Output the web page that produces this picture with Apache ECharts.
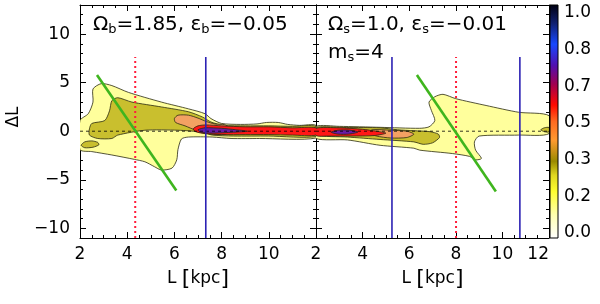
<!DOCTYPE html>
<html><head><meta charset="utf-8">
<script src="https://cdn.jsdelivr.net/npm/echarts@6/dist/echarts.min.js"></script>
<style>html,body{margin:0;padding:0;background:#fff}#c{width:600px;height:304px}</style>
</head><body><div id="c"></div>
<script>
// ---------- data ----------
const xRange = [2, 12];
const xStep = 2;
const yRange = [-11, 13];
const yMajorTicks = [-10, -5, 0, 5, 10];
const cbTickValues = [0, 0.1667, 0.3333, 0.5, 0.6667, 0.8333, 1];
const cbTickLabels = ['0.0', '0.2', '0.3', '0.5', '0.7', '0.8', '1.0'];

// bar panel contours, points [L, ΔL]
const barLevel1 = [[2.0,1.1],[2.35,1.8],[2.55,3.0],[2.55,4.35],[2.9,4.9],[3.35,4.7],[4.05,4.0],[5.45,3.0],[6.6,2.3],[7.3,1.8],[7.55,1.3],[8.0,0.8],[8.8,0.7],[9.5,0.75],[9.9,0.9],[10.4,0.9],[10.8,0.7],[11.3,0.6],[12,0.6],[12,-0.7],[9.6,-0.75],[8.4,-0.75],[7.6,-0.6],[6.6,-0.6],[6.3,-0.8],[6.15,-1.9],[6.1,-2.95],[5.9,-3.8],[5.45,-4.0],[5.15,-3.65],[4.75,-3.15],[4.3,-2.9],[3.35,-2.45],[2.5,-2.1],[2.0,-1.9]];
const barLevel2 = [[2.4,0.25],[2.5,0.8],[3.05,1.1],[3.25,2.1],[3.35,3.15],[3.6,3.45],[4.2,3.0],[5.45,2.5],[6.6,2.0],[7.2,1.45],[7.55,0.95],[8.1,0.6],[9,0.55],[10,0.55],[11,0.5],[12,0.5],[12,-0.55],[10,-0.5],[8.5,-0.5],[7.6,-0.4],[7.2,-0.1],[6.15,0.1],[4.75,0.1],[3.6,-0.4],[3.35,-0.75],[2.75,-0.75],[2.4,-0.4]];
const barLevel2b = [[2.05,-1.45],[2.2,-1.1],[2.5,-1.0],[2.75,-1.15],[2.8,-1.4],[2.55,-1.65],[2.2,-1.7]];
const barLevel3 = [[6.0,1.3],[6.15,1.65],[6.6,1.65],[7.0,1.35],[7.35,1.0],[7.7,0.75],[8.2,0.6],[8.2,-0.3],[7.3,-0.2],[6.9,0.1],[6.45,0.55],[6.05,0.9]];
const barLevel4 = [[6.8,0.25],[7.0,0.55],[7.35,0.65],[8,0.55],[9,0.45],[10,0.45],[11,0.35],[12,0.35],[12,-0.4],[11,-0.4],[10,-0.35],[9,-0.35],[8,-0.35],[7.3,-0.25],[6.9,-0.05]];
const barLevel5 = [[7.0,0.15],[7.3,0.35],[8,0.3],[8.6,0.15],[9.1,0.0],[8.5,-0.1],[7.6,-0.2],[7.1,-0.1]];

// spiral panel contours
const spLevel1 = [[2,0.5],[3,0.5],[4.75,0.4],[6.45,0.3],[6.85,0.45],[7.1,1.1],[6.95,2.15],[6.85,3.0],[7.1,3.55],[7.45,3.8],[8.0,3.35],[9.3,2.65],[10.7,1.95],[12,1.6],[12,-0.25],[10.7,-0.4],[9.0,-0.5],[8.8,-1.1],[8.85,-1.95],[9.1,-2.8],[8.85,-2.95],[8.6,-2.6],[7.85,-2.3],[6.45,-1.95],[6.2,-1.75],[4.75,-1.45],[3.35,-0.9],[2,-0.75]];
const spLevel2 = [[2,0.4],[3.3,0.38],[4.75,0.35],[5.5,0.15],[6.2,0.05],[6.9,-0.05],[7.25,-0.3],[7.3,-0.65],[7.0,-1.2],[6.6,-1.35],[6.2,-1.1],[4.75,-0.85],[3.35,-0.6],[2,-0.4]];
const spLevel2b = [[11.65,0.15],[11.8,0.35],[12,0.38],[12,-0.07],[11.8,-0.05]];
const spLevel3 = [[4.4,0.15],[5.2,0.1],[5.9,0.0],[6.2,-0.3],[5.9,-0.65],[5.2,-0.7],[4.6,-0.5],[4.3,-0.2]];
const spLevel4 = [[2,0.3],[3,0.35],[4,0.2],[4.6,0.0],[5.0,-0.2],[4.5,-0.45],[3.5,-0.5],[2.5,-0.5],[2,-0.45]];
const spLevel5 = [[2.65,-0.1],[2.95,0.1],[3.4,0.12],[3.8,-0.08],[3.4,-0.3],[2.95,-0.3]];

// reference lines
const zeroLine = [[2, 0], [12, 0]];
const barRedDot = [[4.34, -11], [4.34, 7.65]];
const barBlue = [[7.33, -11], [7.33, 7.65]];
const barGreen = [[2.72, 5.8], [6.08, -6.1]];
const spBlue1 = [[5.26, -11], [5.26, 7.65]];
const spBlue2 = [[10.75, -11], [10.75, 7.65]];
const spRedDot = [[8.01, -11], [8.01, 7.65]];
const spGreen = [[6.33, 5.8], [9.72, -6.2]];

// ---------- styles ----------
const FONT = 'DejaVu Sans';
const levelColors = ['#ffff9c', '#c9bf2e', '#f3a163', '#ff1616', '#6a1aa6'];
const cbStops = [0, 0.1, 0.2, 0.27, 0.33, 0.42, 0.5, 0.57, 0.66, 0.74, 0.83, 0.92, 1];
const cbColors = ['#ffffff','#ffffb0','#ffff30','#e0d820','#9a8a00','#ff9a30','#ff6a20','#ff0a00','#a00050','#5010b0','#1848ff','#102070','#000010'];
const cbMin = -0.0227, cbMax = 1.036;

const barRegions = [[barLevel1,0],[barLevel2,1],[barLevel2b,1],[barLevel3,2],[barLevel4,3],[barLevel5,4]];
const spRegions = [[spLevel1,0],[spLevel2,1],[spLevel2b,1],[spLevel3,2],[spLevel4,3],[spLevel5,4]];

const chart = echarts.init(document.getElementById('c'), null, {renderer: 'canvas'});

function contourSeries(regions, xi, yi) {
  return {
    type: 'custom', xAxisIndex: xi, yAxisIndex: yi, clip: true, silent: true, z: 1,
    data: regions.map(r => r[0][0]),
    renderItem: function (params, api) {
      const r = regions[params.dataIndex];
      const pts = r[0].map(p => api.coord(p));
      return {
        type: 'polygon',
        shape: {points: pts, smooth: 0.25},
        style: {fill: levelColors[r[1]], stroke: '#2a2a10', lineWidth: 0.8}
      };
    }
  };
}
function lineSeries(data, xi, yi, color, width, type, z) {
  return {
    type: 'line', xAxisIndex: xi, yAxisIndex: yi, data: data, symbol: 'none', silent: true,
    clip: true, z: z, animation: false,
    lineStyle: {color: color, width: width, type: type}
  };
}
const tickLabelStyle = {fontFamily: FONT, fontSize: 17, color: '#000'};
function xAx(grid, pos, withLabels, lastGrid) {
  return {
    type: 'value', gridIndex: grid, position: pos, min: xRange[0], max: xRange[1], interval: xStep,
    axisLine: {show: true, onZero: false, lineStyle: {color: '#000', width: 1}},
    axisTick: {show: true, inside: true, length: 6, lineStyle: {color: '#000'}},
    minorTick: {show: true, splitNumber: 4, length: 3, lineStyle: {color: '#000'}},
    splitLine: {show: false},
    axisLabel: withLabels ? Object.assign({show: true, margin: 8, showMaxLabel: lastGrid, showMinLabel: true,
      alignMaxLabel: lastGrid ? 'right' : 'center'}, tickLabelStyle) : {show: false},
    name: withLabels ? '{a|L }{b|[}{a|kpc}{b|]}' : '',
    nameLocation: 'middle', nameGap: 28,
    nameTextStyle: {rich: {a: {fontFamily: FONT, fontSize: 17, color: '#000'}, b: {fontFamily: FONT, fontSize: 22, color: '#000'}}}
  };
}
function yAxMajor(grid, pos, withLabels) {
  return {
    type: 'value', gridIndex: grid, position: pos, min: yRange[0], max: yRange[1],
    axisLine: {show: true, onZero: false, lineStyle: {color: '#000', width: 1}},
    axisTick: {show: true, inside: true, length: 6, customValues: yMajorTicks, lineStyle: {color: '#000'}},
    splitLine: {show: false},
    axisLabel: withLabels ? Object.assign({show: true, margin: 10, customValues: yMajorTicks,
      formatter: v => String(v).replace('-', '\u2212')}, tickLabelStyle) : {show: false}
  };
}
function yAxMinor(grid, pos) {
  return {
    type: 'value', gridIndex: grid, position: pos, min: yRange[0], max: yRange[1], interval: 1,
    axisLine: {show: false}, splitLine: {show: false}, axisLabel: {show: false},
    axisTick: {show: true, inside: true, length: 3, lineStyle: {color: '#000'}}
  };
}
const subRich = {
  a: {fontFamily: FONT, fontSize: 20, fontWeight: 'normal', lineHeight: 22, color: '#000'},
  s: {fontFamily: FONT, fontSize: 13, fontWeight: 'normal', lineHeight: 6, verticalAlign: 'bottom', color: '#000'}
};

const option = {
  animation: false,
  backgroundColor: '#fff',
  grid: [
    {left: 80, top: 5, width: 236, height: 233, outerBoundsMode: 'none'},
    {left: 316, top: 5, width: 233, height: 233, outerBoundsMode: 'none'},
    {left: 550, top: 5, width: 8, height: 233, outerBoundsMode: 'none'}
  ],
  title: [
    {left: 93, top: 14, padding: 0, text: '{a|\u03a9}{s|b}{a|=1.85, \u03b5}{s|b}{a|=\u22120.05}', textStyle: {fontWeight: 'normal', rich: subRich}},
    {left: 328, top: 14, padding: 0, text: '{a|\u03a9}{s|s}{a|=1.0, \u03b5}{s|s}{a|=\u22120.01}', textStyle: {fontWeight: 'normal', rich: subRich}},
    {left: 328, top: 42, padding: 0, text: '{a|m}{s|s}{a|=4}', textStyle: {fontWeight: 'normal', rich: subRich}}
  ],
  graphic: [
    {type: 'text', x: 5, y: 117, rotation: Math.PI / 2, style: {text: '\u0394L', fontFamily: FONT, fontSize: 17, fill: '#000', align: 'center', verticalAlign: 'top'}}
  ],
  xAxis: [
    xAx(0, 'bottom', true, false), xAx(0, 'top', false, false),
    xAx(1, 'bottom', true, true), xAx(1, 'top', false, false),
    {type: 'value', gridIndex: 2, min: 0, max: 1, show: false}
  ],
  yAxis: [
    yAxMajor(0, 'left', true), yAxMinor(0, 'left'), yAxMajor(0, 'right', false), yAxMinor(0, 'right'),
    yAxMajor(1, 'left', false), yAxMinor(1, 'left'), yAxMajor(1, 'right', false), yAxMinor(1, 'right'),
    {type: 'value', gridIndex: 2, position: 'right', min: cbMin, max: cbMax,
      axisLine: {show: false}, axisTick: {show: false}, splitLine: {show: false},
      axisLabel: Object.assign({show: true, margin: 6, customValues: cbTickValues,
        formatter: v => { const i = cbTickValues.findIndex(t => Math.abs(t - v) < 1e-6); return i >= 0 ? cbTickLabels[i] : ''; }}, tickLabelStyle)}
  ],
  series: [
    contourSeries(barRegions, 0, 0),
    lineSeries(zeroLine, 0, 0, '#000', 0.8, [3, 3], 2),
    lineSeries(barRedDot, 0, 0, '#ff1e3c', 2, [2, 3], 3),
    lineSeries(barBlue, 0, 0, '#2c22b4', 1.6, 'solid', 3),
    lineSeries(barGreen, 0, 0, '#3fb51e', 2.6, 'solid', 4),
    contourSeries(spRegions, 2, 4),
    lineSeries(zeroLine, 2, 4, '#000', 0.8, [3, 3], 2),
    lineSeries(spRedDot, 2, 4, '#ff1e3c', 2, [2, 3], 3),
    lineSeries(spBlue1, 2, 4, '#2c22b4', 1.6, 'solid', 3),
    lineSeries(spBlue2, 2, 4, '#2c22b4', 1.6, 'solid', 3),
    lineSeries(spGreen, 2, 4, '#3fb51e', 2.6, 'solid', 4),
    {
      type: 'custom', xAxisIndex: 4, yAxisIndex: 8, silent: true, clip: false,
      data: [[0, cbMin]],
      renderItem: function (params, api) {
        const p0 = api.coord([0, cbMin]);
        const p1 = api.coord([1, cbMax]);
        return {
          type: 'rect',
          shape: {x: p0[0], y: p1[1], width: p1[0] - p0[0], height: p0[1] - p1[1]},
          style: {
            fill: {type: 'linear', x: 0, y: 1, x2: 0, y2: 0,
              colorStops: cbStops.map((s, i) => ({offset: s, color: cbColors[i]}))},
            stroke: '#000', lineWidth: 1
          }
        };
      }
    }
  ]
};
chart.setOption(option);
</script></body></html>
